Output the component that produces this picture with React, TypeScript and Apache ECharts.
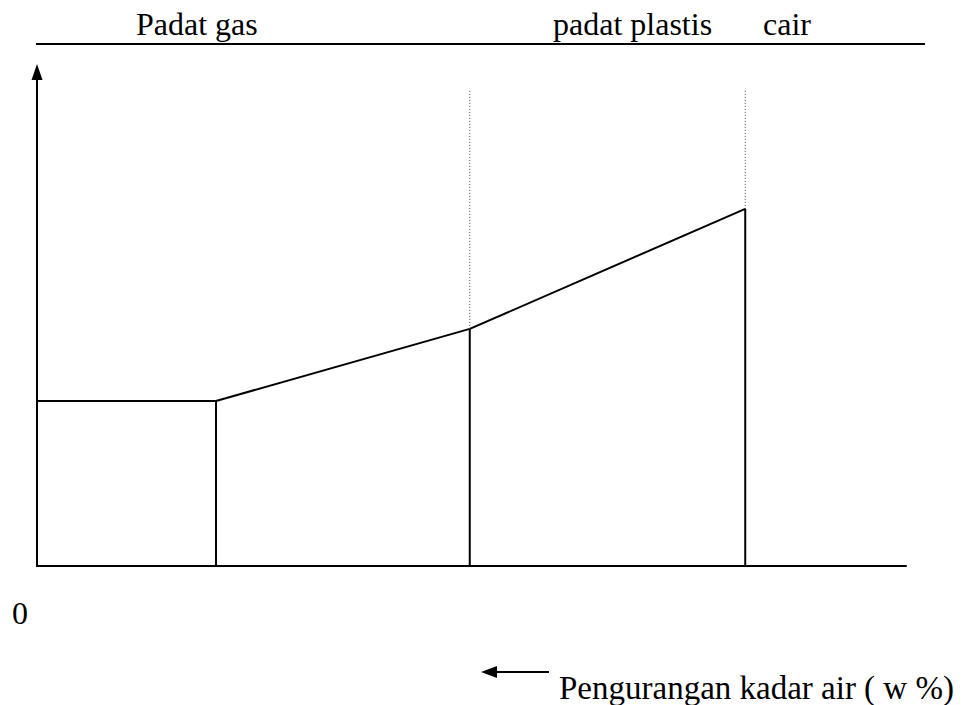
import React, { useEffect, useRef } from "react";
import * as echarts from "echarts";

// Curve points (x: water-content axis units, y: value units)
const curveX = [0, 20.6, 49.8, 81.5];
const curveY = [33.4, 33.4, 48.0, 72.3];
// Vertical boundary drops (solid) from curve to x-axis
const dropIdx = [1, 2, 3];
// Dotted phase boundaries (index of curve point) and their top value
const dottedIdx = [2, 3];
const dottedTop = 96.4;
// Texts
const phaseLabels = ["Padat gas", "padat plastis", "cair"];
const originLabel = "0";
const axisCaption = "Pengurangan kadar air ( w %)";

const FONT = "Liberation Serif";

export default function App() {
  const ref = useRef<HTMLDivElement>(null);
  useEffect(() => {
    if (!ref.current) return;
    const chart = echarts.init(ref.current, undefined, { renderer: "svg" });
    const series: any[] = [];
    series.push({
      type: "line",
      data: curveX.map((x, i) => [x, curveY[i]]),
      symbol: "none",
      lineStyle: { color: "#000", width: 2 },
    });
    dropIdx.forEach((i) => {
      series.push({
        type: "line",
        data: [
          [curveX[i], 0],
          [curveX[i], curveY[i]],
        ],
        symbol: "none",
        lineStyle: { color: "#000", width: 2 },
      });
    });
    dottedIdx.forEach((i) => {
      series.push({
        type: "line",
        data: [
          [curveX[i], curveY[i]],
          [curveX[i], dottedTop],
        ],
        symbol: "none",
        lineStyle: { color: "#444", width: 1, type: [1, 2] },
      });
    });
    const labelX = [136, 553, 763];
    const textStyle = (t: string, x: number, y: number, size: number) => ({
      type: "text",
      x,
      y,
      style: {
        text: t,
        fill: "#000",
        fontFamily: FONT,
        fontSize: size,
        align: "left",
        verticalAlign: "middle",
      },
    });
    const option: any = {
      animation: false,
      backgroundColor: "#fff",
      textStyle: { fontFamily: FONT },
      grid: { left: 37, right: 63, top: 72, bottom: 139 },
      xAxis: {
        type: "value",
        min: 0,
        max: 100,
        axisLine: { show: true, onZero: false, lineStyle: { color: "#000", width: 2 } },
        axisTick: { show: false },
        axisLabel: { show: false },
        splitLine: { show: false },
      },
      yAxis: {
        type: "value",
        min: 0,
        max: 100,
        axisLine: {
          show: true,
          onZero: false,
          symbol: ["none", "triangle"],
          symbolSize: [11, 16],
          lineStyle: { color: "#000", width: 2 },
        },
        axisTick: { show: false },
        axisLabel: { show: false },
        splitLine: { show: false },
      },
      series,
      graphic: [
        {
          type: "line",
          shape: { x1: 36, y1: 44, x2: 925, y2: 44 },
          style: { stroke: "#000", lineWidth: 2 },
        },
        ...phaseLabels.map((t, i) => textStyle(t, labelX[i], 24, 32)),
        textStyle(originLabel, 12, 613, 32),
        {
          type: "line",
          shape: { x1: 490, y1: 672, x2: 549, y2: 672 },
          style: { stroke: "#000", lineWidth: 2 },
        },
        {
          type: "polygon",
          shape: { points: [[481, 672], [497, 666], [497, 678]] },
          style: { fill: "#000" },
        },
        textStyle(axisCaption, 559, 688, 33),
      ],
    };
    chart.setOption(option);
    return () => chart.dispose();
  }, []);
  return (
    <div
      ref={ref}
      style={{ position: "absolute", left: 0, top: 0, width: 969, height: 705 }}
    />
  );
}
